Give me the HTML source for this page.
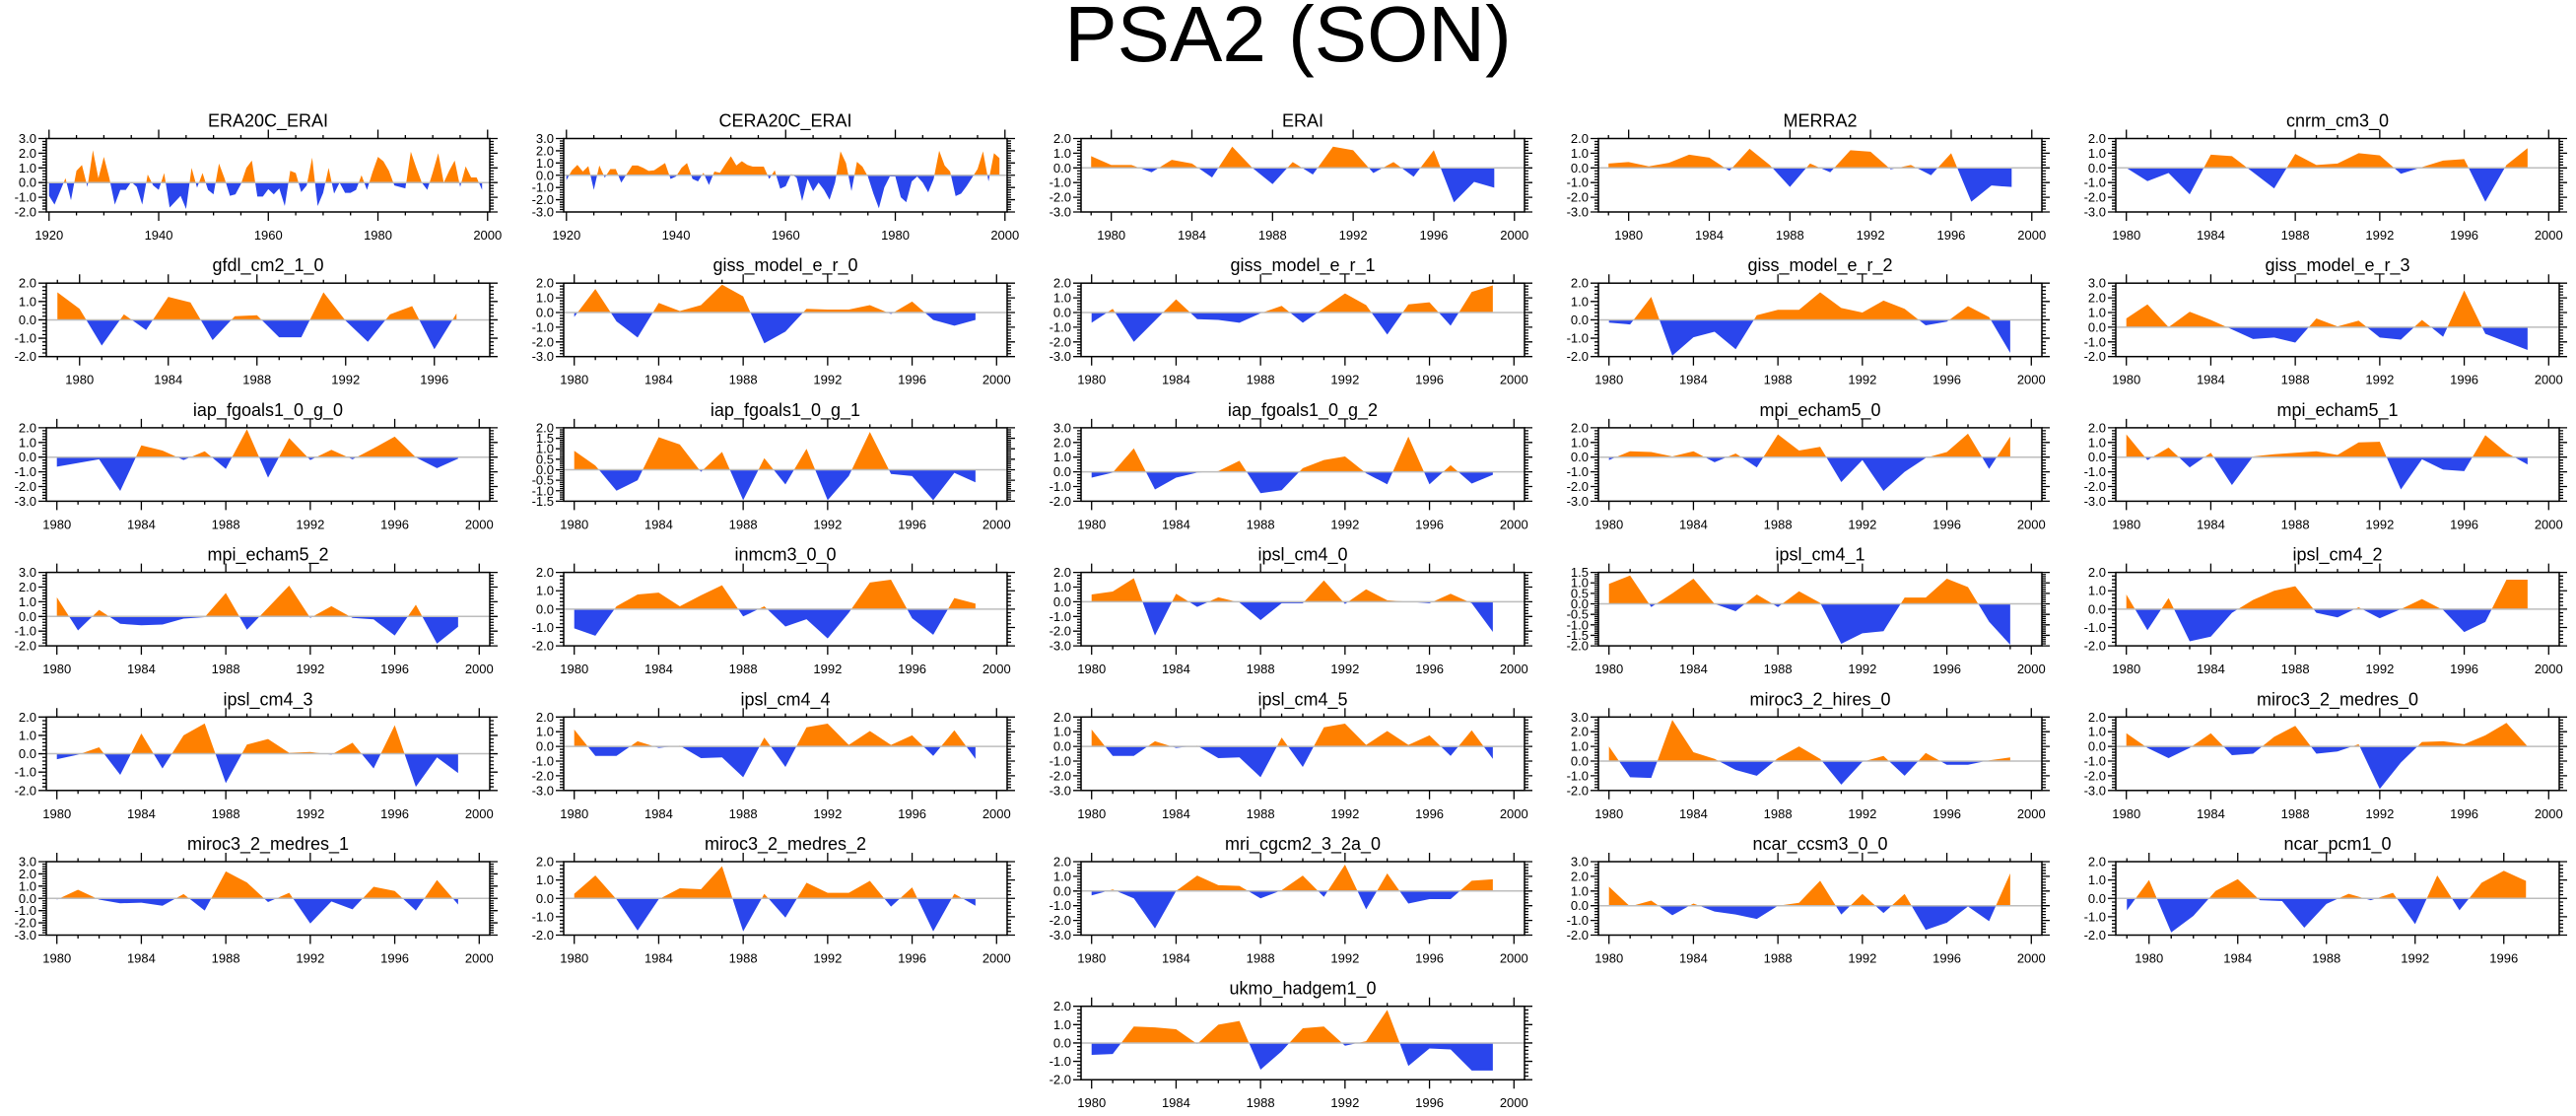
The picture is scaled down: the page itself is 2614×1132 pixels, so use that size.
<!DOCTYPE html>
<html><head><meta charset="utf-8"><style>
html,body{margin:0;padding:0;background:#fff;}
svg{display:block;font-family:"Liberation Sans",Arial,sans-serif;}
</style></head><body>
<svg id="fig" width="2614" height="1132" viewBox="0 0 2614 1132">
<text x="1307" y="62" text-anchor="middle" font-size="80" fill="#000">PSA2 (SON)</text>
</svg>
<script>
// ---- data (PSA2 index, SON) ----
const era20c_erai = [-0.9,-1.5,-0.6,0.3,-1.2,0.8,1.2,-0.3,2.2,0.3,1.75,0.3,-1.5,-0.5,-0.5,0.05,-0.3,-1.5,0.55,-0.2,-0.5,0.65,-1.7,-1.3,-0.9,-1.8,1.0,-0.35,0.65,-0.5,-0.8,1.3,0.3,-0.9,-0.8,-0.1,1.0,1.5,-0.95,-0.95,-0.45,-0.8,-0.4,-1.6,0.8,0.65,-0.65,-0.2,1.7,-1.6,-0.7,1.0,-0.75,0.0,-0.7,-0.7,-0.5,0.5,-0.5,0.7,1.75,1.45,0.8,-0.2,-0.3,-0.4,2.1,1.0,0.0,-0.5,0.7,2.0,0.0,0.8,1.5,-0.3,1.1,0.35,0.35,-0.5];
const cera20c_erai = [-0.4,0.4,0.85,0.3,0.75,-1.2,0.8,-0.2,0.5,0.5,-0.6,0.1,0.8,0.8,0.6,0.35,0.4,0.7,1.0,-0.3,-0.1,0.6,1.0,-0.3,-0.5,0.2,-0.8,0.3,0.2,0.9,1.55,0.8,1.15,0.85,0.7,0.7,0.7,-0.3,0.4,-1.1,-0.9,0.1,-0.2,-2.1,-0.3,-1.3,-0.6,-1.2,-2.0,-0.6,1.95,1.0,-1.3,1.1,0.7,-0.1,-1.5,-2.7,-1.0,-0.1,-0.1,-1.8,-2.2,-0.5,-0.1,-0.6,-1.4,-0.3,2.0,0.8,0.3,-1.7,-1.5,-0.9,-0.2,0.5,1.95,-0.5,1.8,1.4];
const erai = [0.8,0.2,0.2,-0.3,0.55,0.3,-0.65,1.45,0.0,-1.1,0.4,-0.45,1.45,1.2,-0.35,0.4,-0.6,1.2,-2.35,-0.95,-1.35];
const merra2 = [0.3,0.4,0.1,0.35,0.9,0.7,-0.2,1.3,0.2,-1.3,0.3,-0.3,1.2,1.1,-0.1,0.2,-0.5,1.0,-2.3,-1.2,-1.3];
const cnrm_cm3_0 = [0.0,-0.9,-0.35,-1.8,0.9,0.8,-0.3,-1.4,0.95,0.2,0.3,1.0,0.85,-0.4,0.05,0.5,0.6,-2.3,0.2,1.35];
const gfdl_cm2_1_0 = [1.5,0.6,-1.4,0.3,-0.55,1.25,0.95,-1.1,0.2,0.25,-0.95,-0.95,1.5,-0.05,-1.2,0.3,0.75,-1.6,0.35];
const giss_model_e_r_0 = [-0.3,1.6,-0.6,-1.7,0.65,0.1,0.5,1.9,1.1,-2.1,-1.3,0.25,0.2,0.2,0.5,-0.1,0.75,-0.5,-0.9,-0.5];
const giss_model_e_r_1 = [-0.7,0.25,-2.0,-0.55,0.9,-0.45,-0.5,-0.7,-0.05,0.45,-0.7,0.3,1.3,0.5,-1.5,0.55,0.7,-0.9,1.4,1.85];
const giss_model_e_r_2 = [-0.15,-0.25,1.25,-1.95,-0.95,-0.65,-1.6,0.25,0.55,0.55,1.5,0.65,0.4,1.05,0.6,-0.3,-0.1,0.75,0.15,-1.8];
const giss_model_e_r_3 = [0.6,1.55,0.0,1.05,0.5,-0.15,-0.8,-0.7,-1.05,0.6,0.05,0.45,-0.7,-0.85,0.5,-0.65,2.5,-0.45,-1.0,-1.55];
const iap_fgoals1_0_g_0 = [-0.65,-0.4,-0.15,-2.3,0.8,0.45,-0.2,0.4,-0.8,1.9,-1.4,1.3,-0.2,0.5,-0.15,0.6,1.4,-0.02,-0.75,-0.1];
const iap_fgoals1_0_g_1 = [0.9,0.2,-1.0,-0.5,1.55,1.2,-0.1,0.85,-1.45,0.55,-0.7,1.0,-1.45,-0.3,1.8,-0.2,-0.3,-1.45,-0.15,-0.6];
const iap_fgoals1_0_g_2 = [-0.4,-0.05,1.6,-1.2,-0.4,-0.05,0.05,0.75,-1.45,-1.25,0.25,0.8,1.05,-0.1,-0.85,2.4,-0.85,0.45,-0.8,-0.2];
const mpi_echam5_0 = [-0.2,0.4,0.35,0.05,0.4,-0.35,0.25,-0.7,1.55,0.45,0.7,-1.7,-0.2,-2.3,-1.0,-0.05,0.35,1.6,-0.8,1.4];
const mpi_echam5_1 = [1.55,-0.2,0.65,-0.7,0.3,-1.9,0.05,0.2,0.3,0.4,0.15,1.0,1.05,-2.2,-0.15,-0.85,-0.95,1.5,0.3,-0.5];
const mpi_echam5_2 = [1.3,-0.95,0.45,-0.5,-0.6,-0.55,-0.15,-0.05,1.6,-0.9,0.6,2.1,-0.1,0.7,-0.1,-0.2,-1.3,0.8,-1.85,-0.7];
const inmcm3_0_0 = [-1.05,-1.45,0.15,0.8,0.9,0.15,0.75,1.3,-0.4,0.15,-0.95,-0.55,-1.6,-0.2,1.45,1.6,-0.5,-1.4,0.6,0.3];
const ipsl_cm4_0 = [0.5,0.7,1.6,-2.3,0.55,-0.35,0.3,-0.05,-1.25,-0.1,-0.1,1.45,-0.15,0.85,0.1,0.0,-0.1,0.55,-0.1,-2.05];
const ipsl_cm4_1 = [0.95,1.35,-0.15,0.5,1.2,0.0,-0.35,0.45,-0.15,0.6,0.05,-1.9,-1.4,-1.3,0.3,0.3,1.2,0.8,-0.85,-1.95];
const ipsl_cm4_2 = [0.8,-1.15,0.6,-1.75,-1.5,-0.2,0.5,1.0,1.25,-0.2,-0.45,0.1,-0.5,0.0,0.55,-0.05,-1.25,-0.7,1.6,1.6];
const ipsl_cm4_3 = [-0.3,-0.05,0.35,-1.15,1.1,-0.8,1.0,1.65,-1.6,0.5,0.8,0.05,0.1,-0.05,0.6,-0.8,1.55,-1.8,-0.2,-1.05];
const ipsl_cm4_4 = [1.15,-0.65,-0.65,0.35,-0.1,0.05,-0.8,-0.75,-2.1,0.6,-1.4,1.3,1.55,0.1,1.05,0.1,0.75,-0.65,1.1,-0.85];
const ipsl_cm4_5 = [1.15,-0.65,-0.65,0.35,-0.1,0.05,-0.8,-0.75,-2.1,0.6,-1.4,1.3,1.55,0.1,1.05,0.1,0.75,-0.65,1.1,-0.85];
const miroc3_2_hires_0 = [1.0,-1.1,-1.15,2.8,0.6,0.15,-0.6,-1.0,0.2,1.0,0.15,-1.6,-0.05,0.35,-1.0,0.55,-0.25,-0.25,0.05,0.25];
const miroc3_2_medres_0 = [0.9,-0.1,-0.8,-0.1,0.9,-0.6,-0.5,0.65,1.4,-0.5,-0.35,0.15,-2.9,-1.1,0.3,0.35,0.15,0.75,1.6,0.0];
const miroc3_2_medres_1 = [-0.1,0.7,-0.1,-0.4,-0.35,-0.6,0.35,-1.0,2.2,1.3,-0.3,0.45,-2.05,-0.25,-0.9,0.95,0.6,-1.0,1.5,-0.5];
const miroc3_2_medres_2 = [0.25,1.25,-0.05,-1.75,-0.05,0.55,0.5,1.75,-1.8,0.25,-1.05,0.85,0.3,0.3,0.95,-0.45,0.6,-1.8,0.25,-0.4];
const mri_cgcm2_3_2a_0 = [-0.3,0.1,-0.5,-2.55,0.0,1.05,0.4,0.35,-0.5,0.05,1.05,-0.4,1.8,-1.25,1.2,-0.85,-0.55,-0.55,0.7,0.8];
const ncar_ccsm3_0_0 = [1.3,-0.05,0.35,-0.65,0.15,-0.4,-0.6,-0.9,0.0,0.2,1.7,-0.6,0.8,-0.5,0.8,-1.65,-1.15,-0.05,-1.05,2.2];
const ncar_pcm1_0 = [-0.65,1.0,-1.85,-0.95,0.4,1.05,-0.1,-0.15,-1.6,-0.3,0.25,-0.1,0.3,-1.4,1.25,-0.65,0.85,1.5,0.95];
const ukmo_hadgem1_0 = [-0.65,-0.6,0.9,0.85,0.75,-0.05,1.0,1.2,-1.45,-0.45,0.8,0.9,-0.15,0.1,1.8,-1.25,-0.3,-0.35,-1.5,-1.5];

// ---- panel configuration ----
const P20 = {x0:1919.5,x1:2000.4,xmaj:20,xmnr:5,lab0:1920,lab1:2000};
const PA = {x0:1978.5,x1:2000.5,xmaj:4,xmnr:1,lab0:1980,lab1:2000};
const PM = {x0:1979.5,x1:2000.5,xmaj:4,xmnr:1,lab0:1980,lab1:2000};
const PS = {x0:1978.5,x1:1998.5,xmaj:4,xmnr:1,lab0:1980,lab1:1996};
const panels = [
 {t:'ERA20C_ERAI',d:era20c_erai,s:1920,ax:P20,y0:-2,y1:3,ys:1,r:0,c:0},
 {t:'CERA20C_ERAI',d:cera20c_erai,s:1920,ax:P20,y0:-3,y1:3,ys:1,r:0,c:1},
 {t:'ERAI',d:erai,s:1979,ax:PA,y0:-3,y1:2,ys:1,r:0,c:2},
 {t:'MERRA2',d:merra2,s:1979,ax:PA,y0:-3,y1:2,ys:1,r:0,c:3},
 {t:'cnrm_cm3_0',d:cnrm_cm3_0,s:1980,ax:PM,y0:-3,y1:2,ys:1,r:0,c:4},
 {t:'gfdl_cm2_1_0',d:gfdl_cm2_1_0,s:1979,ax:PS,y0:-2,y1:2,ys:1,r:1,c:0},
 {t:'giss_model_e_r_0',d:giss_model_e_r_0,s:1980,ax:PM,y0:-3,y1:2,ys:1,r:1,c:1},
 {t:'giss_model_e_r_1',d:giss_model_e_r_1,s:1980,ax:PM,y0:-3,y1:2,ys:1,r:1,c:2},
 {t:'giss_model_e_r_2',d:giss_model_e_r_2,s:1980,ax:PM,y0:-2,y1:2,ys:1,r:1,c:3},
 {t:'giss_model_e_r_3',d:giss_model_e_r_3,s:1980,ax:PM,y0:-2,y1:3,ys:1,r:1,c:4},
 {t:'iap_fgoals1_0_g_0',d:iap_fgoals1_0_g_0,s:1980,ax:PM,y0:-3,y1:2,ys:1,r:2,c:0},
 {t:'iap_fgoals1_0_g_1',d:iap_fgoals1_0_g_1,s:1980,ax:PM,y0:-1.5,y1:2,ys:0.5,r:2,c:1},
 {t:'iap_fgoals1_0_g_2',d:iap_fgoals1_0_g_2,s:1980,ax:PM,y0:-2,y1:3,ys:1,r:2,c:2},
 {t:'mpi_echam5_0',d:mpi_echam5_0,s:1980,ax:PM,y0:-3,y1:2,ys:1,r:2,c:3},
 {t:'mpi_echam5_1',d:mpi_echam5_1,s:1980,ax:PM,y0:-3,y1:2,ys:1,r:2,c:4},
 {t:'mpi_echam5_2',d:mpi_echam5_2,s:1980,ax:PM,y0:-2,y1:3,ys:1,r:3,c:0},
 {t:'inmcm3_0_0',d:inmcm3_0_0,s:1980,ax:PM,y0:-2,y1:2,ys:1,r:3,c:1},
 {t:'ipsl_cm4_0',d:ipsl_cm4_0,s:1980,ax:PM,y0:-3,y1:2,ys:1,r:3,c:2},
 {t:'ipsl_cm4_1',d:ipsl_cm4_1,s:1980,ax:PM,y0:-2,y1:1.5,ys:0.5,r:3,c:3},
 {t:'ipsl_cm4_2',d:ipsl_cm4_2,s:1980,ax:PM,y0:-2,y1:2,ys:1,r:3,c:4},
 {t:'ipsl_cm4_3',d:ipsl_cm4_3,s:1980,ax:PM,y0:-2,y1:2,ys:1,r:4,c:0},
 {t:'ipsl_cm4_4',d:ipsl_cm4_4,s:1980,ax:PM,y0:-3,y1:2,ys:1,r:4,c:1},
 {t:'ipsl_cm4_5',d:ipsl_cm4_5,s:1980,ax:PM,y0:-3,y1:2,ys:1,r:4,c:2},
 {t:'miroc3_2_hires_0',d:miroc3_2_hires_0,s:1980,ax:PM,y0:-2,y1:3,ys:1,r:4,c:3},
 {t:'miroc3_2_medres_0',d:miroc3_2_medres_0,s:1980,ax:PM,y0:-3,y1:2,ys:1,r:4,c:4},
 {t:'miroc3_2_medres_1',d:miroc3_2_medres_1,s:1980,ax:PM,y0:-3,y1:3,ys:1,r:5,c:0},
 {t:'miroc3_2_medres_2',d:miroc3_2_medres_2,s:1980,ax:PM,y0:-2,y1:2,ys:1,r:5,c:1},
 {t:'mri_cgcm2_3_2a_0',d:mri_cgcm2_3_2a_0,s:1980,ax:PM,y0:-3,y1:2,ys:1,r:5,c:2},
 {t:'ncar_ccsm3_0_0',d:ncar_ccsm3_0_0,s:1980,ax:PM,y0:-2,y1:3,ys:1,r:5,c:3},
 {t:'ncar_pcm1_0',d:ncar_pcm1_0,s:1979,ax:PS,y0:-2,y1:2,ys:1,r:5,c:4},
 {t:'ukmo_hadgem1_0',d:ukmo_hadgem1_0,s:1980,ax:PM,y0:-2,y1:2,ys:1,r:6,c:2}
];

const NS='http://www.w3.org/2000/svg';
const svg=document.getElementById('fig');
function mk(tag,attrs,parent){const e=document.createElementNS(NS,tag);for(const k in attrs)e.setAttribute(k,attrs[k]);parent.appendChild(e);return e;}
const W=450,H=74.5;
panels.forEach((p,i)=>{
  const L=47+525*p.c, T=140.5+146.7*p.r, R=L+W, B=T+H;
  const slug=p.t.toLowerCase().replace(/_/g,'-');
  const g=mk('g',{},svg);
  
  
  const xs=v=>L+(v-p.ax.x0)/(p.ax.x1-p.ax.x0)*W;
  const ys=v=>B-(v-p.y0)/(p.y1-p.y0)*H;
  // title
  const tt=mk('text',{x:L+W/2,y:T-12,'text-anchor':'middle','font-size':18},g);
  tt.textContent=p.t;
  
  
  // clip paths
  const z=ys(0);
  const cu=mk('clipPath',{id:'cu'+i},g); mk('rect',{x:L,y:T,width:W,height:z-T},cu);
  const cd=mk('clipPath',{id:'cd'+i},g); mk('rect',{x:L,y:z,width:W,height:B-z},cd);
  let pts=xs(p.s).toFixed(2)+','+z.toFixed(2)+' ';
  p.d.forEach((v,k)=>{pts+=xs(p.s+k).toFixed(2)+','+ys(v).toFixed(2)+' ';});
  pts+=xs(p.s+p.d.length-1).toFixed(2)+','+z.toFixed(2);
  const up=mk('polygon',{points:pts,fill:'#ff8000','clip-path':'url(#cu'+i+')'},g);
  
  
  const dn=mk('polygon',{points:pts,fill:'#2a45ec','clip-path':'url(#cd'+i+')'},g);
  
  
  const zl=mk('line',{x1:L,x2:R,y1:z,y2:z,stroke:'#bdbdbd','stroke-width':1.5},g);
  
  
  // frame
  const fr=mk('rect',{x:L,y:T,width:W,height:H,fill:'none',stroke:'#000','stroke-width':1.5},g);
  
  
  // x ticks
  let tp='';
  const a=p.ax;
  for(let yr=Math.ceil(a.x0);yr<=a.x1;yr++){
    if(yr%a.xmnr!==0)continue;
    const X=xs(yr);
    const maj=(yr%a.xmaj===0)&&yr>=a.lab0&&yr<=a.lab1 || (a.xmaj===20&&yr%20===0);
    const len=maj?9:3.5;
    tp+=`M${X},${B}v${len}M${X},${T}v${-len}`;
    if(maj){
      const lb=mk('text',{x:X,y:B+28,'text-anchor':'middle','font-size':13},g);
      lb.textContent=yr;
      
      
    }
  }
  // y ticks
  const mstep=p.ys/5;
  const n=Math.round((p.y1-p.y0)/mstep);
  for(let k=0;k<=n;k++){
    const v=p.y0+k*mstep, Y=ys(v);
    const maj=(k%5===0);
    const len=maj?8:4;
    tp+=`M${L},${Y}h${-len}M${R},${Y}h${len}`;
    if(maj){
      const lb=mk('text',{x:L-10,y:Y+4.5,'text-anchor':'end','font-size':13},g);
      lb.textContent=(Math.abs(v)<1e-9?0:v).toFixed(1);
      
      
    }
  }
  const tk=mk('path',{d:tp,stroke:'#000','stroke-width':1.3,fill:'none'},g);
  
  
});
</script>
</body></html>
